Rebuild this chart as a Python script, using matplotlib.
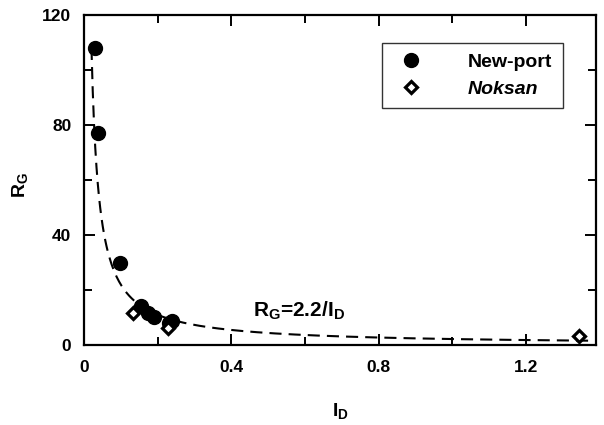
import numpy as np
import matplotlib
matplotlib.use("Agg")
import matplotlib.pyplot as plt
from matplotlib.ticker import MultipleLocator


# field data: gradient ratio R_G against distance I_D
newport_id = [0.030, 0.039, 0.098, 0.155, 0.173, 0.191, 0.232, 0.240]
newport_rg = [108.0, 77.0, 30.0, 14.2, 11.5, 10.1, 8.0, 8.8]
noksan_id = [0.134, 0.229, 1.344]
noksan_rg = [11.5, 6.3, 3.2]

fit_coef = 2.2
fit_label = r"R$_\mathregular{G}$=2.2/I$_\mathregular{D}$"

x_ticks = [0, 0.4, 0.8, 1.2]
y_ticks = [0, 40, 80, 120]

FONT = "Liberation Sans"
plt.rcParams["font.family"] = [FONT, "DejaVu Sans"]
plt.rcParams["font.weight"] = "bold"
plt.rcParams["axes.labelweight"] = "bold"
plt.rcParams["mathtext.fontset"] = "custom"
plt.rcParams["mathtext.rm"] = f"{FONT}:bold"
plt.rcParams["mathtext.it"] = f"{FONT}:bold"
plt.rcParams["mathtext.bf"] = f"{FONT}:bold"

fig = plt.figure(figsize=(6.04, 4.25), dpi=100)
ax = fig.add_axes([0.139, 0.188, 0.848, 0.777])

# fitted curve
xs = np.linspace(fit_coef / 108.0, 1.38, 400)
ax.plot(xs, fit_coef / xs, color="black", lw=1.5, ls=(0, (5.8, 3.4)), zorder=2)

ax.plot(newport_id, newport_rg, "o", ms=10, color="black", label="New-port", zorder=3)
ax.plot(noksan_id, noksan_rg, "D", ms=6.5, mfc="white", mec="black", mew=2.3,
        label="Noksan", zorder=4)

ax.text(0.459, 10.3, fit_label, fontsize=15, ha="left", va="baseline")

ax.set_xlim(0, 1.39)
ax.set_ylim(0, 120)
ax.set_xticks(x_ticks)
ax.set_xticklabels(["0", "0.4", "0.8", "1.2"])
ax.set_yticks(y_ticks)
ax.xaxis.set_minor_locator(MultipleLocator(0.2))
ax.yaxis.set_minor_locator(MultipleLocator(20))
ax.tick_params(which="both", direction="in", top=True, right=True, width=1.4,
               labelsize=12.5)
ax.tick_params(axis="x", which="both", pad=11)
ax.tick_params(axis="y", which="both", pad=9)
ax.tick_params(which="major", length=8)
ax.tick_params(which="minor", length=6)
for lab in ax.get_xticklabels() + ax.get_yticklabels():
    lab.set_fontweight("bold")
for sp in ax.spines.values():
    sp.set_linewidth(1.6)

ax.set_xlabel(r"I$_\mathregular{D}$", fontsize=14)
ax.set_ylabel(r"R$_\mathregular{G}$", fontsize=14)
ax.xaxis.set_label_coords(0.5, -0.17)
ax.yaxis.set_label_coords(-0.105, 0.485)

leg = ax.legend(loc="upper right", bbox_to_anchor=(0.9355, 0.915), fontsize=14,
                frameon=True, fancybox=False, edgecolor="black", handletextpad=2.0,
                borderpad=0.55, labelspacing=0.45, handlelength=1.9, borderaxespad=0)
leg.get_frame().set_linewidth(1.0)
leg.get_texts()[1].set_fontstyle("italic")

fig.savefig("out.png", dpi=100)
